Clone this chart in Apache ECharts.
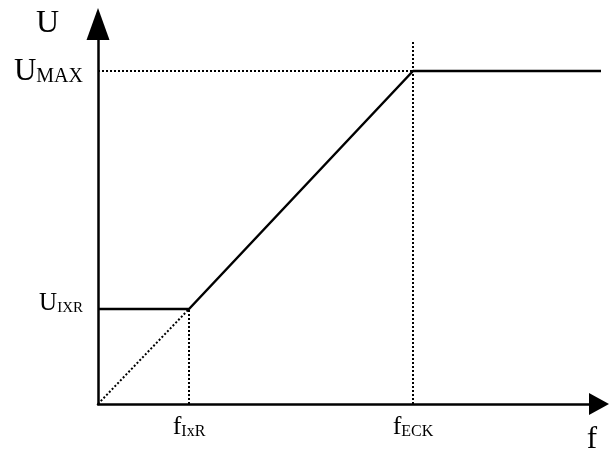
<!DOCTYPE html>
<html>
<head>
<meta charset="utf-8">
<script src="https://cdn.jsdelivr.net/npm/echarts@6/dist/echarts.min.js"></script>
<style>
  html, body { margin: 0; padding: 0; background: #fff; }
  #chart { width: 609px; height: 450px; }
</style>
</head>
<body>
<div id="chart"></div>
<script>
// characteristic points (arbitrary units)
var F_IXR = 91;
var F_ECK = 315;
var U_IXR = 95;
var U_MAX = 333;

var freq = [0, F_IXR, F_ECK, 505];
var volt = [U_IXR, U_IXR, U_MAX, U_MAX];

var rampExt = [[0, 0], [F_IXR, U_IXR]];
var dropIxr = [[F_IXR, 0], [F_IXR, U_IXR]];
var levelMax = [[0, U_MAX], [F_ECK, U_MAX]];
var dropEck = [[F_ECK, 0], [F_ECK, 362]];

var xTicks = [F_IXR, F_ECK];
var xTickMain = ['f', 'f'];
var xTickSub = ['IxR', 'ECK'];

var yTicks = [U_IXR, U_MAX];
var yTickMain = ['U', 'U'];
var yTickSub = ['IXR', 'MAX'];

var font = 'Liberation Serif';

var chart = echarts.init(document.getElementById('chart'));

function dotted(data) {
  return {
    type: 'line',
    data: data,
    symbol: 'none',
    silent: true,
    lineStyle: { color: '#000', width: 2, type: [2, 2] }
  };
}

var option = {
  animation: false,
  grid: { left: 98, right: 10, top: 24, bottom: 46, outerBoundsMode: 'none', containLabel: false },
  xAxis: {
    type: 'value',
    min: 0,
    max: 501,
    name: 'f',
    nameLocation: 'end',
    nameGap: 0,
    nameTextStyle: {
      fontFamily: font, fontSize: 31, color: '#000',
      align: 'right', verticalAlign: 'top', padding: [20, 2, 0, 0]
    },
    axisLine: {
      lineStyle: { color: '#000', width: 2.5 },
      symbol: ['none', 'triangle'],
      symbolSize: [22, 20]
    },
    axisTick: { show: false },
    splitLine: { show: false },
    axisLabel: {
      customValues: xTicks,
      margin: 10,
      formatter: function (v) {
        var i = xTicks.indexOf(v);
        return '{m|' + xTickMain[i] + '}{s|' + xTickSub[i] + '}';
      },
      rich: {
        m: { fontFamily: font, fontSize: 26, color: '#000', verticalAlign: 'bottom', lineHeight: 26 },
        s: { fontFamily: font, fontSize: 16, color: '#000', verticalAlign: 'bottom', lineHeight: 22 }
      }
    }
  },
  yAxis: {
    type: 'value',
    min: 0,
    max: 380,
    name: 'U',
    nameLocation: 'end',
    nameGap: 0,
    nameTextStyle: {
      fontFamily: font, fontSize: 32, color: '#000',
      align: 'right', verticalAlign: 'middle', padding: [0, 39, 0, 0]
    },
    axisLine: {
      lineStyle: { color: '#000', width: 2.5 },
      symbol: ['none', 'triangle'],
      symbolSize: [23, 32]
    },
    axisTick: { show: false },
    splitLine: { show: false },
    axisLabel: {
      customValues: yTicks,
      margin: 15,
      formatter: function (v) {
        var i = yTicks.indexOf(v);
        if (v === U_MAX) {
          return '{M|' + yTickMain[i] + '}{S|' + yTickSub[i] + '}';
        }
        // lower label sits slightly above its level line
        return '{m|' + yTickMain[i] + '}{s|' + yTickSub[i] + '}\n{gap| }';
      },
      rich: {
        M: { fontFamily: font, fontSize: 31, color: '#000', verticalAlign: 'bottom', lineHeight: 32 },
        S: { fontFamily: font, fontSize: 20, color: '#000', verticalAlign: 'bottom', lineHeight: 28 },
        m: { fontFamily: font, fontSize: 25, color: '#000', verticalAlign: 'bottom', lineHeight: 26 },
        s: { fontFamily: font, fontSize: 15, color: '#000', verticalAlign: 'bottom', lineHeight: 22 },
        gap: { fontSize: 1, lineHeight: 12 }
      }
    }
  },
  series: [
    dotted(rampExt),
    dotted(dropIxr),
    dotted(levelMax),
    dotted(dropEck),
    {
      type: 'line',
      data: freq.map(function (f, i) { return [f, volt[i]]; }),
      symbol: 'none',
      clip: false,
      lineStyle: { color: '#000', width: 2.5 }
    }
  ]
};

chart.setOption(option);
</script>
</body>
</html>
